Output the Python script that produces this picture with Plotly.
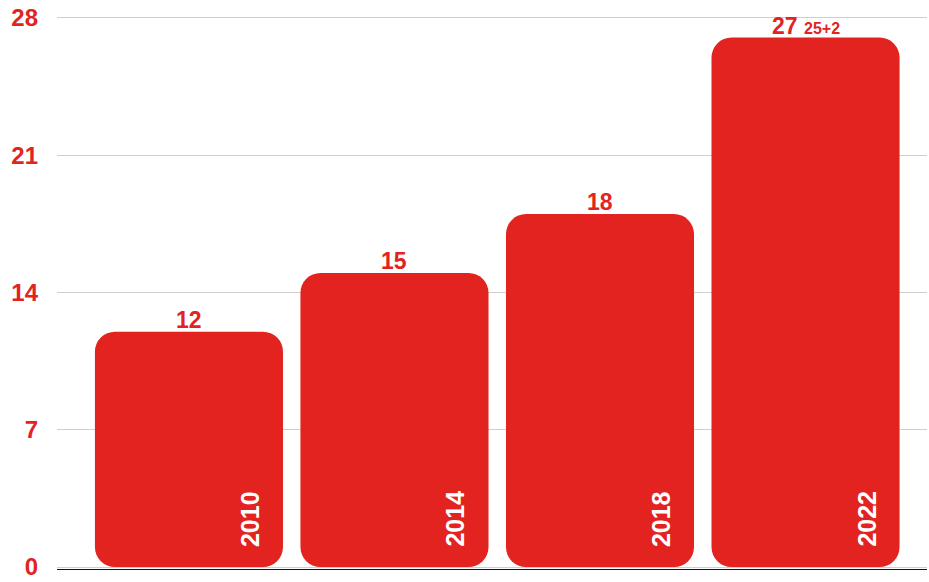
import plotly.graph_objects as go

years = ["2010", "2014", "2018", "2022"]
values = [12, 15, 18, 27]
value_labels = ["12", "15", "18", "27 <span style='font-size:16px'>25+2</span>"]
y_ticks = [0, 7, 14, 21, 28]

RED = "#E2231F"
FONT = "Liberation Sans"
xpos = list(range(len(years)))

fig = go.Figure()
fig.add_trace(go.Bar(
    x=xpos, y=values, base=[0] * len(values), width=0.915,
    marker=dict(color=RED, line=dict(width=0)),
    hoverinfo="x+y", showlegend=False,
))

for i, (v, lab) in enumerate(zip(values, value_labels)):
    fig.add_annotation(
        x=i, y=v, xref="x", yref="y", text=lab, showarrow=False,
        xanchor="center", yanchor="bottom", yshift=-3,
        font=dict(family=FONT, size=23, color=RED, weight="bold"),
    )

for i, yr in enumerate(years):
    fig.add_annotation(
        x=i + 0.297, y=0, xref="x", yref="y", text=yr, textangle=-90,
        showarrow=False, xanchor="center", yanchor="bottom", yshift=18,
        font=dict(family=FONT, size=25, color="white", weight="bold"),
    )

fig.update_layout(
    width=929, height=582,
    margin=dict(l=57, r=2, t=16, b=13),
    paper_bgcolor="white", plot_bgcolor="white",
    barcornerradius=20,
)
fig.update_xaxes(
    range=[-0.642, 3.591], showticklabels=False, showgrid=False,
    showline=True, linecolor="#111111", linewidth=1, zeroline=False, ticks="",
)
fig.update_yaxes(
    range=[-0.1, 28.1], tickvals=y_ticks, ticktext=[str(t) for t in y_ticks],
    showgrid=True, gridcolor="#CFCFCF", gridwidth=1, zeroline=False,
    tickfont=dict(family=FONT, size=24, color=RED, weight="bold"),
    ticklabelstandoff=18, ticks="",
)

fig.write_html("out.html", config={"displayModeBar": False},
               post_script="document.body.style.margin='0';")
